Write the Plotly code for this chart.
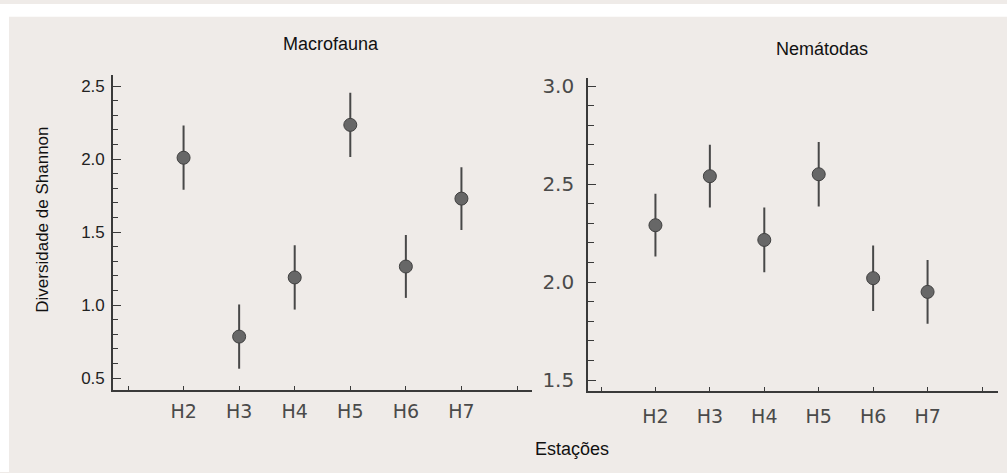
import plotly.graph_objects as go

stations = ["H2", "H3", "H4", "H5", "H6", "H7"]

macro_mean = [2.01, 0.785, 1.19, 2.235, 1.265, 1.73]
macro_err = [0.22, 0.22, 0.22, 0.22, 0.215, 0.215]

nema_mean = [2.29, 2.54, 2.215, 2.55, 2.02, 1.95]
nema_err = [0.16, 0.16, 0.165, 0.165, 0.167, 0.163]

W, H = 1007, 473
BG = "#efebe8"
FONT_TXT = "Liberation Sans, Arial, sans-serif"
FONT_SCAN = "DejaVu Sans, sans-serif"

xpos = [i + 2 for i in range(len(stations))]
tickvals = [1] + xpos + [8]
ticktext = [""] + stations + [""]

fig = go.Figure()

marker = dict(size=13, color="#676767", line=dict(color="#404040", width=1))
err_style = dict(type="data", thickness=2, width=0, color="#484848")

fig.add_trace(go.Scatter(
    x=xpos, y=macro_mean, mode="markers", marker=marker,
    error_y=dict(array=macro_err, **err_style),
    xaxis="x", yaxis="y", showlegend=False))
fig.add_trace(go.Scatter(
    x=xpos, y=nema_mean, mode="markers", marker=marker,
    error_y=dict(array=nema_err, **err_style),
    xaxis="x2", yaxis="y2", showlegend=False))

axis_common = dict(showgrid=False, zeroline=False, showline=True,
                   linecolor="#3a3a3a", linewidth=1.6, ticks="inside",
                   tickcolor="#3a3a3a", tickwidth=1.3)

fig.update_layout(
    width=W, height=H,
    margin=dict(l=0, r=0, t=0, b=0),
    paper_bgcolor=BG, plot_bgcolor=BG,
    xaxis=dict(domain=[113 / W, 532 / W], range=[0.73, 8.27], anchor="y",
               tickmode="array", tickvals=tickvals, ticktext=ticktext,
               ticklen=4, ticklabelstandoff=4,
               tickfont=dict(family=FONT_SCAN, size=19, color="#4a4a4a"),
               **axis_common),
    yaxis=dict(domain=[(H - 390) / H, (H - 72) / H], range=[0.42, 2.575], anchor="x",
               tick0=0.5, dtick=0.5, tickformat=".1f", ticklen=8, ticklabelstandoff=3,
               minor=dict(dtick=0.1, tick0=0.5, ticks="inside", ticklen=5,
                          tickcolor="#3a3a3a", tickwidth=1.2),
               tickfont=dict(family=FONT_TXT, size=17, color="#222222"),
               **axis_common),
    xaxis2=dict(domain=[588 / W, 998 / W], range=[0.761, 8.294], anchor="y2",
                tickmode="array", tickvals=tickvals, ticktext=ticktext,
                ticklen=4, ticklabelstandoff=8,
                tickfont=dict(family=FONT_SCAN, size=19, color="#4a4a4a"),
                **axis_common),
    yaxis2=dict(domain=[(H - 391) / H, (H - 75) / H], range=[1.445, 3.04], anchor="x2",
                tick0=1.5, dtick=0.5, tickformat=".1f", ticklen=8, ticklabelstandoff=8,
                minor=dict(dtick=0.1, tick0=1.5, ticks="inside", ticklen=6,
                           tickcolor="#3a3a3a", tickwidth=1.2),
                tickfont=dict(family=FONT_SCAN, size=20, color="#4a4a4a"),
                **axis_common),
    shapes=[
        dict(type="rect", xref="paper", yref="paper", x0=0, x1=1,
             y0=(H - 13) / H, y1=1, fillcolor="white", line=dict(width=0), layer="below"),
        dict(type="rect", xref="paper", yref="paper", x0=0, x1=9 / W,
             y0=0, y1=1, fillcolor="white", line=dict(width=0), layer="below"),
    ],
    annotations=[
        dict(text="Macrofauna", x=331 / W, y=1 - 40 / H, xref="paper", yref="paper",
             xanchor="center", yanchor="middle", showarrow=False,
             font=dict(family=FONT_TXT, size=18, color="#111111")),
        dict(text="Nemátodas", x=822 / W, y=1 - 45 / H, xref="paper", yref="paper",
             xanchor="center", yanchor="middle", showarrow=False,
             font=dict(family=FONT_TXT, size=18, color="#111111")),
        dict(text="Estações", x=572 / W, y=1 - 450 / H, xref="paper", yref="paper",
             xanchor="center", yanchor="middle", showarrow=False,
             font=dict(family=FONT_TXT, size=18, color="#111111")),
        dict(text="Diversidade de Shannon", x=43 / W, y=1 - 218 / H, xref="paper",
             yref="paper", xanchor="center", yanchor="middle", textangle=-90,
             showarrow=False, font=dict(family=FONT_TXT, size=17, color="#111111")),
    ],
)

fig.write_html("out.html")
